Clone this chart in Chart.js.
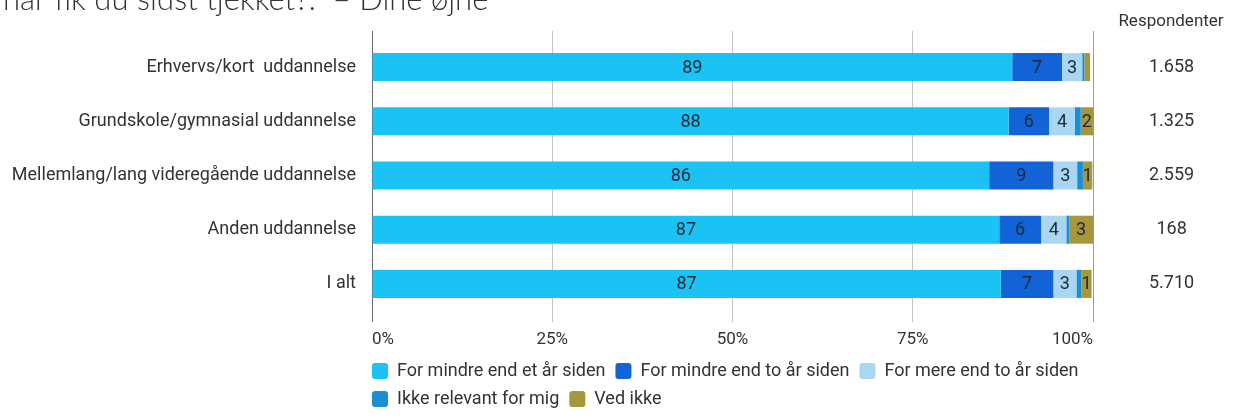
<!DOCTYPE html>
<html>
<head>
<meta charset="utf-8">
<script src="https://cdn.jsdelivr.net/npm/chart.js@4/dist/chart.umd.min.js"></script>
<style>
  html, body { margin: 0; padding: 0; background: #fff; }
  #wrap { position: relative; width: 1241px; height: 419px; }
</style>
</head>
<body>
<div id="wrap"><canvas id="chart" width="1241" height="419"></canvas></div>
<script>
const categories = [
  "Erhvervs/kort  uddannelse",
  "Grundskole/gymnasial uddannelse",
  "Mellemlang/lang videregående uddannelse",
  "Anden uddannelse",
  "I alt"
];
const respondents = ["1.658", "1.325", "2.559", "168", "5.710"];

const seriesNames = [
  "For mindre end et år siden",
  "For mindre end to år siden",
  "For mere end to år siden",
  "Ikke relevant for mig",
  "Ved ikke"
];
const lessThanOneYear = [88.8, 88.3, 85.6, 87.0, 87.2];
const lessThanTwoYears = [6.9, 5.6, 8.9, 5.8, 7.3];
const moreThanTwoYears = [2.8, 3.6, 3.3, 3.5, 3.2];
const notRelevant = [0.3, 0.8, 0.8, 0.4, 0.7];
const dontKnow = [0.8, 1.7, 1.3, 3.3, 1.4];

const xTicks = [0, 25, 50, 75, 100];
const titleText = "Hvornår fik du sidst tjekket?:  – Dine øjne";

const colors = ["#1bc3f4", "#1163d6", "#a9d7f3", "#1a8fd2", "#a8963a"];
const seriesData = [lessThanOneYear, lessThanTwoYears, moreThanTwoYears, notRelevant, dontKnow];

const FONT = "Roboto, 'Noto Sans', sans-serif";

// value labels inside the segments (hidden when below 1)
const segmentLabels = {
  id: "segmentLabels",
  afterDatasetsDraw(chart) {
    const ctx = chart.ctx;
    ctx.save();
    ctx.font = "18px " + FONT;
    ctx.fillStyle = "#1b2a3a";
    ctx.textAlign = "center";
    ctx.textBaseline = "middle";
    chart.data.datasets.forEach((ds, i) => {
      chart.getDatasetMeta(i).data.forEach((bar, j) => {
        const v = ds.data[j];
        if (v < 1) return;
        ctx.fillText(String(Math.round(v)), (bar.x + bar.base) / 2, bar.y + 1);
      });
    });
    ctx.restore();
  }
};

// legend starts at the plot's left edge and keeps 3 items on row one
const legendShift = {
  id: "legendShift",
  afterLayout(chart) {
    const lg = chart.legend;
    const pad = lg.options.labels.padding;
    lg.left = chart.chartArea.left - pad;
    lg.right = chart.chartArea.right + 20;
    lg.width = lg.right - lg.left;
  }
};

// cut-off title and the "Respondenter" header
const headers = {
  id: "headers",
  afterDraw(chart) {
    const ctx = chart.ctx;
    ctx.save();
    ctx.font = "300 31px Lato, 'Open Sans', sans-serif";
    ctx.fillStyle = "#333";
    ctx.textBaseline = "alphabetic";
    const skip = ctx.measureText("Hvor").width;
    ctx.fillText(titleText, 3 - skip, 10);
    ctx.font = "17px " + FONT;
    ctx.textAlign = "center";
    ctx.fillText("Respondenter", 1171, 26);
    ctx.restore();
  }
};

function gridColor(c) {
  if (c.index === 0) return "#6a6a6a";
  if (c.index === xTicks.length - 1) return "#9a9a9a";
  return "#c4c4c4";
}

new Chart(document.getElementById("chart"), {
  type: "bar",
  data: {
    labels: categories,
    datasets: seriesNames.map((name, i) => ({
      label: name,
      data: seriesData[i],
      backgroundColor: colors[i],
      borderWidth: 0,
      categoryPercentage: 1,
      barPercentage: 0.517,
      yAxisID: "y"
    }))
  },
  options: {
    indexAxis: "y",
    responsive: false,
    animation: false,
    layout: { padding: { top: 31, bottom: 1, left: 0, right: 0 } },
    plugins: {
      tooltip: { enabled: false },
      legend: {
        position: "bottom",
        align: "start",
        fullSize: false,
        labels: {
          font: { family: FONT, size: 18 },
          color: "#333",
          boxWidth: 16,
          boxHeight: 16,
          padding: 10,
          useBorderRadius: true,
          borderRadius: 3
        }
      }
    },
    scales: {
      x: {
        type: "linear",
        stacked: true,
        min: 0,
        max: 100,
        afterBuildTicks: (s) => { s.ticks = xTicks.map(v => ({ value: v })); },
        afterFit: (s) => { s.height = 41; },
        ticks: {
          callback: (v) => v + "%",
          align: "inner",
          font: { family: FONT, size: 17 },
          color: "#333",
          padding: 8
        },
        grid: { color: gridColor, tickColor: gridColor, tickLength: 11, lineWidth: 1 },
        border: { display: false }
      },
      xTop: {
        type: "linear",
        position: "top",
        min: 0,
        max: 100,
        afterBuildTicks: (s) => { s.ticks = xTicks.map(v => ({ value: v })); },
        afterFit: (s) => { s.height = 9; },
        ticks: { display: false },
        grid: { drawOnChartArea: false, color: gridColor, tickColor: gridColor, tickLength: 9 },
        border: { display: false }
      },
      y: {
        type: "category",
        stacked: true,
        position: "left",
        afterFit: (s) => { s.width = 372; },
        ticks: {
          font: { family: FONT, size: 18 },
          color: "#333",
          padding: 8
        },
        grid: { display: false },
        border: { display: false }
      },
      y2: {
        type: "category",
        position: "right",
        labels: respondents,
        afterFit: (s) => { s.width = 1241 - 1093; },
        ticks: {
          font: { family: FONT, size: 18 },
          color: "#333",
          crossAlign: "center",
          padding: 0
        },
        // invisible tick marks push the respondent counts into their column
        grid: { display: true, drawOnChartArea: false, tickLength: 56, tickColor: "rgba(0,0,0,0)" },
        border: { display: false }
      }
    }
  },
  plugins: [segmentLabels, legendShift, headers]
});
</script>
</body>
</html>
